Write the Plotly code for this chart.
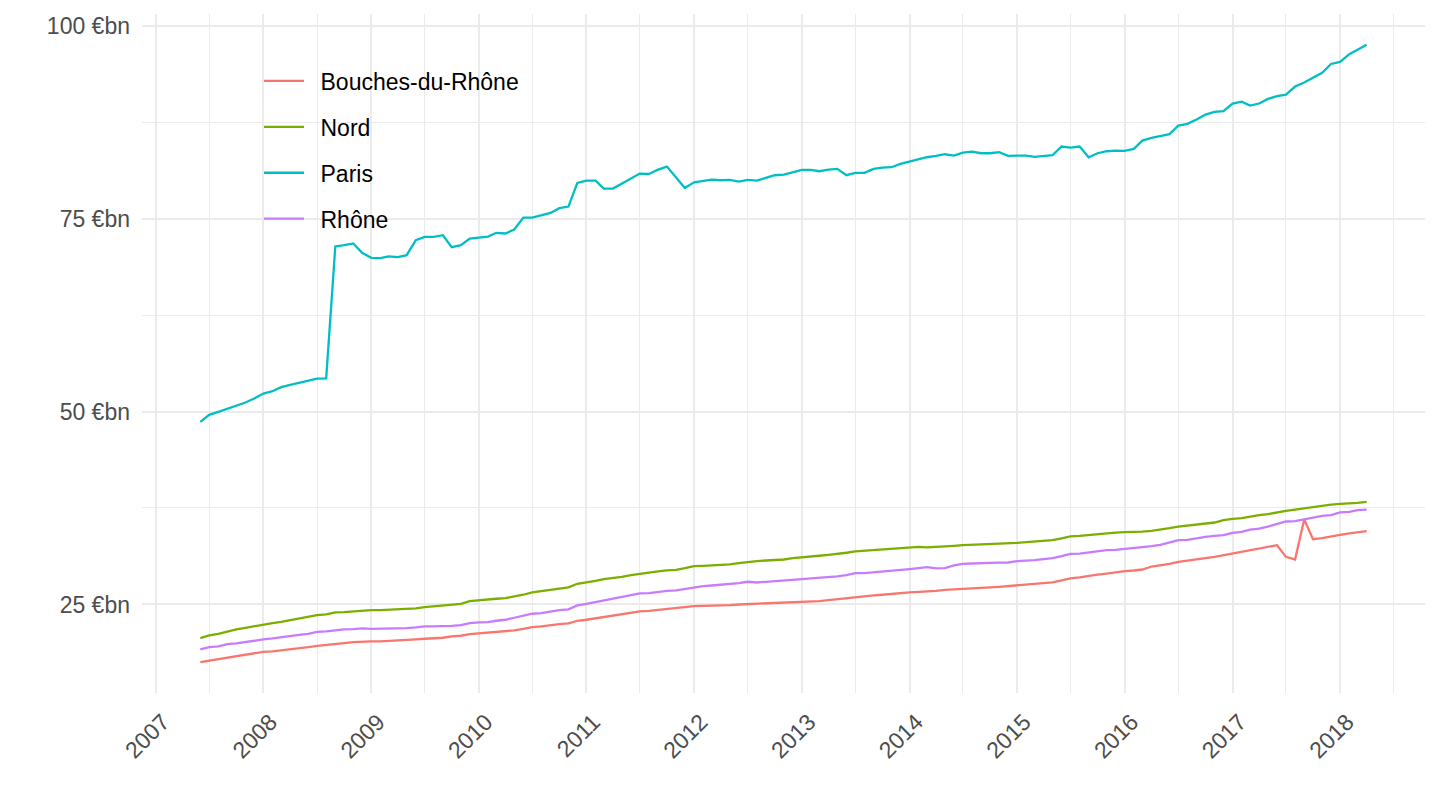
import pandas as pd
import plotly.graph_objects as go

# monthly series, June 2007 -> April 2018 (billions of euros)
start_month = "2007-06-01"
end_month = "2018-04-01"

bouches_du_rhone = [
    17.53, 17.71, 17.88, 18.10, 18.31, 18.48, 18.70,
    18.87, 18.92, 19.05, 19.18, 19.26, 19.48, 19.65, 19.74, 19.87, 20.00, 20.13, 20.21,
    20.21, 20.21, 20.26, 20.30, 20.34, 20.47, 20.56, 20.60, 20.69, 20.86, 20.95, 21.16,
    21.25, 21.33, 21.38, 21.46, 21.64, 21.85, 22.07, 22.16, 22.33, 22.46, 22.54, 22.89,
    23.02, 23.21, 23.41, 23.58, 23.75, 23.97, 24.10, 24.18, 24.31, 24.40, 24.49, 24.61,
    24.79, 24.83, 24.83, 24.87, 24.92, 25.00, 25.05, 25.05, 25.09, 25.13, 25.18, 25.26,
    25.31, 25.35, 25.44, 25.57, 25.69, 25.82, 26.00, 26.04, 26.17, 26.26, 26.39, 26.52,
    26.56, 26.64, 26.69, 26.77, 26.90, 26.95, 27.08, 27.12, 27.16, 27.21, 27.29, 27.37,
    27.46, 27.55, 27.63, 27.72, 27.85, 28.11, 28.37, 28.50, 28.71, 28.88, 29.01, 29.19,
    29.32, 29.40, 29.53, 29.92, 30.05, 30.27, 30.52, 30.65, 30.83, 31.00, 31.17, 31.39,
    31.60, 31.78, 31.99, 32.25, 32.42, 32.68, 31.17, 30.83, 36.01, 33.46, 33.59, 33.85,
    34.02, 34.20, 34.37, 34.50,
]

nord = [
    20.64, 20.99, 21.20, 21.51, 21.77, 21.98, 22.20,
    22.41, 22.59, 22.76, 22.98, 23.15, 23.41, 23.62, 23.71, 23.97, 24.01, 24.10, 24.27,
    24.27, 24.27, 24.31, 24.36, 24.40, 24.49, 24.66, 24.75, 24.87, 25.00, 25.09, 25.44,
    25.57, 25.65, 25.74, 25.83, 26.00, 26.26, 26.56, 26.73, 26.90, 27.08, 27.21, 27.68,
    27.85, 28.07, 28.29, 28.41, 28.59, 28.80, 28.98, 29.11, 29.28, 29.41, 29.49, 29.71,
    29.97, 30.01, 30.06, 30.10, 30.19, 30.36, 30.53, 30.62, 30.70, 30.75, 30.83, 31.01,
    31.09, 31.18, 31.31, 31.44, 31.52, 31.70, 31.87, 31.96, 32.08, 32.13, 32.17, 32.34,
    32.34, 32.47, 32.39, 32.43, 32.47, 32.60, 32.69, 32.73, 32.78, 32.78, 32.82, 32.90,
    32.99, 33.07, 33.16, 33.29, 33.33, 33.55, 33.81, 33.89, 34.02, 34.15, 34.20, 34.32,
    34.37, 34.37, 34.45, 34.54, 34.67, 34.89, 35.10, 35.23, 35.40, 35.49, 35.62, 35.92,
    36.10, 36.18, 36.40, 36.57, 36.70, 36.96, 37.13, 37.30, 37.48, 37.65, 37.78, 37.95,
    38.04, 38.08, 38.17, 38.30,
]

paris = [
    48.66, 49.57, 49.96, 50.34, 50.69, 51.16, 51.68,
    52.33, 52.63, 53.15, 53.45, 53.71, 54.00, 54.27, 54.30, 71.38, 71.55, 71.77, 70.56,
    69.91, 69.87, 70.09, 70.00, 70.26, 72.20, 72.63, 72.63, 72.84, 71.29, 71.55, 72.41,
    72.50, 72.67, 73.15, 73.06, 73.58, 75.13, 75.13, 75.39, 75.73, 76.34, 76.55, 79.61,
    79.92, 79.92, 78.88, 78.88, 79.53, 80.18, 80.83, 80.78, 81.34, 81.73, 80.35, 78.97,
    79.70, 79.88, 80.05, 79.96, 80.00, 79.79, 80.00, 79.92, 80.26, 80.61, 80.70, 81.04,
    81.30, 81.30, 81.13, 81.34, 81.43, 80.61, 80.91, 80.91, 81.43, 81.60, 81.65, 82.08,
    82.38, 82.60, 82.94, 83.11, 83.33, 83.16, 83.55, 83.67, 83.46, 83.46, 83.59, 83.12,
    83.12, 83.16, 82.99, 83.12, 83.20, 84.33, 84.20, 84.33, 82.94, 83.46, 83.72, 83.81,
    83.76, 84.02, 85.10, 85.45, 85.71, 85.93, 87.05, 87.26, 87.83, 88.47, 88.82, 88.90,
    89.90, 90.15, 89.64, 89.90, 90.50, 90.85, 91.06, 92.10, 92.62, 93.26, 93.87, 95.03,
    95.29, 96.29, 96.89, 97.50,
]

rhone = [
    19.18, 19.48, 19.56, 19.87, 19.95, 20.13, 20.34,
    20.47, 20.60, 20.77, 20.95, 21.07, 21.20, 21.46, 21.51, 21.68, 21.77, 21.81, 21.90,
    21.85, 21.85, 21.85, 21.90, 21.94, 22.03, 22.16, 22.16, 22.16, 22.24, 22.33, 22.59,
    22.67, 22.72, 22.89, 23.02, 23.28, 23.54, 23.80, 23.88, 24.10, 24.27, 24.36, 24.87,
    25.09, 25.31, 25.52, 25.74, 25.91, 26.17, 26.43, 26.47, 26.64, 26.77, 26.82, 27.03,
    27.25, 27.38, 27.46, 27.55, 27.64, 27.77, 27.94, 27.85, 27.94, 28.03, 28.11, 28.16,
    28.24, 28.41, 28.50, 28.59, 28.63, 28.80, 29.06, 29.06, 29.15, 29.24, 29.32, 29.45,
    29.58, 29.71, 29.84, 29.67, 29.71, 30.06, 30.27, 30.31, 30.31, 30.40, 30.42, 30.44,
    30.61, 30.65, 30.74, 30.87, 31.00, 31.26, 31.56, 31.60, 31.78, 31.95, 32.04, 32.08,
    32.21, 32.25, 32.47, 32.55, 32.73, 33.03, 33.33, 33.37, 33.59, 33.76, 33.89, 33.98,
    34.28, 34.41, 34.71, 34.84, 35.10, 35.45, 35.75, 35.79, 36.05, 36.27, 36.48, 36.57,
    36.92, 37.00, 37.22, 37.30,
]

names = ["Bouches-du-Rhône", "Nord", "Paris", "Rhône"]
colors = ["#F8766D", "#7CAE00", "#00BFC4", "#C77CFF"]
y_ticks = [25, 50, 75, 100]
y_minor = [37.5, 62.5, 87.5]

dates = pd.date_range(start_month, end_month, freq="MS")
series = [bouches_du_rhone, nord, paris, rhone]

fig = go.Figure()
for name, vals, col in zip(names, series, colors):
    fig.add_trace(go.Scatter(
        x=dates, y=vals, mode="lines",
        name="\u2002" + name,  # en space: wider gap between key and label, like ggplot
        legendgroup=name,
        line=dict(color=col, width=2.3),
    ))

# ggplot-like 5% expansion of the data range
x0, x1 = dates.min(), dates.max()
pad = (x1 - x0) * 0.05
all_vals = [v for s in series for v in s]
ymin, ymax = min(all_vals), max(all_vals)
ypad = (ymax - ymin) * 0.05

grid = "#EBEBEB"
# page body has an 8px margin, so the figure is 16px smaller than the window
fig.update_layout(
    width=1424, height=794,
    margin=dict(l=134, r=7, t=6, b=109),
    plot_bgcolor="white", paper_bgcolor="white",
    font=dict(family="Liberation Sans, Arial, sans-serif", size=23, color="#4D4D4D"),
    showlegend=True,
    legend=dict(
        x=0.0912, y=0.933, xanchor="left", yanchor="top",
        bgcolor="rgba(0,0,0,0)", font=dict(size=23, color="black"),
        tracegroupgap=13, itemwidth=40,
    ),
    xaxis=dict(
        type="date", range=[x0 - pad, x1 + pad],
        tick0="2007-01-01", dtick="M12", tickformat="%Y", tickangle=-45,
        showgrid=True, gridcolor=grid, gridwidth=2.2,
        zeroline=False, showline=False, ticks="",
        minor=dict(dtick="M6", tick0="2007-01-01", showgrid=True, gridcolor=grid, gridwidth=1.1),
        tickfont=dict(size=23, color="#4D4D4D"),
        ticklabelstandoff=10, ticklabelshift=7,
    ),
    yaxis=dict(
        range=[ymin - ypad, ymax + ypad],
        tickvals=y_ticks, ticktext=[f"{v} €bn" for v in y_ticks],
        showgrid=True, gridcolor=grid, gridwidth=2.2,
        zeroline=False, showline=False, ticks="",
        minor=dict(tickvals=y_minor, showgrid=True, gridcolor=grid, gridwidth=1.1),
        tickfont=dict(size=23, color="#4D4D4D"),
        ticklabelstandoff=11,
    ),
)

fig.write_html("out.html")
